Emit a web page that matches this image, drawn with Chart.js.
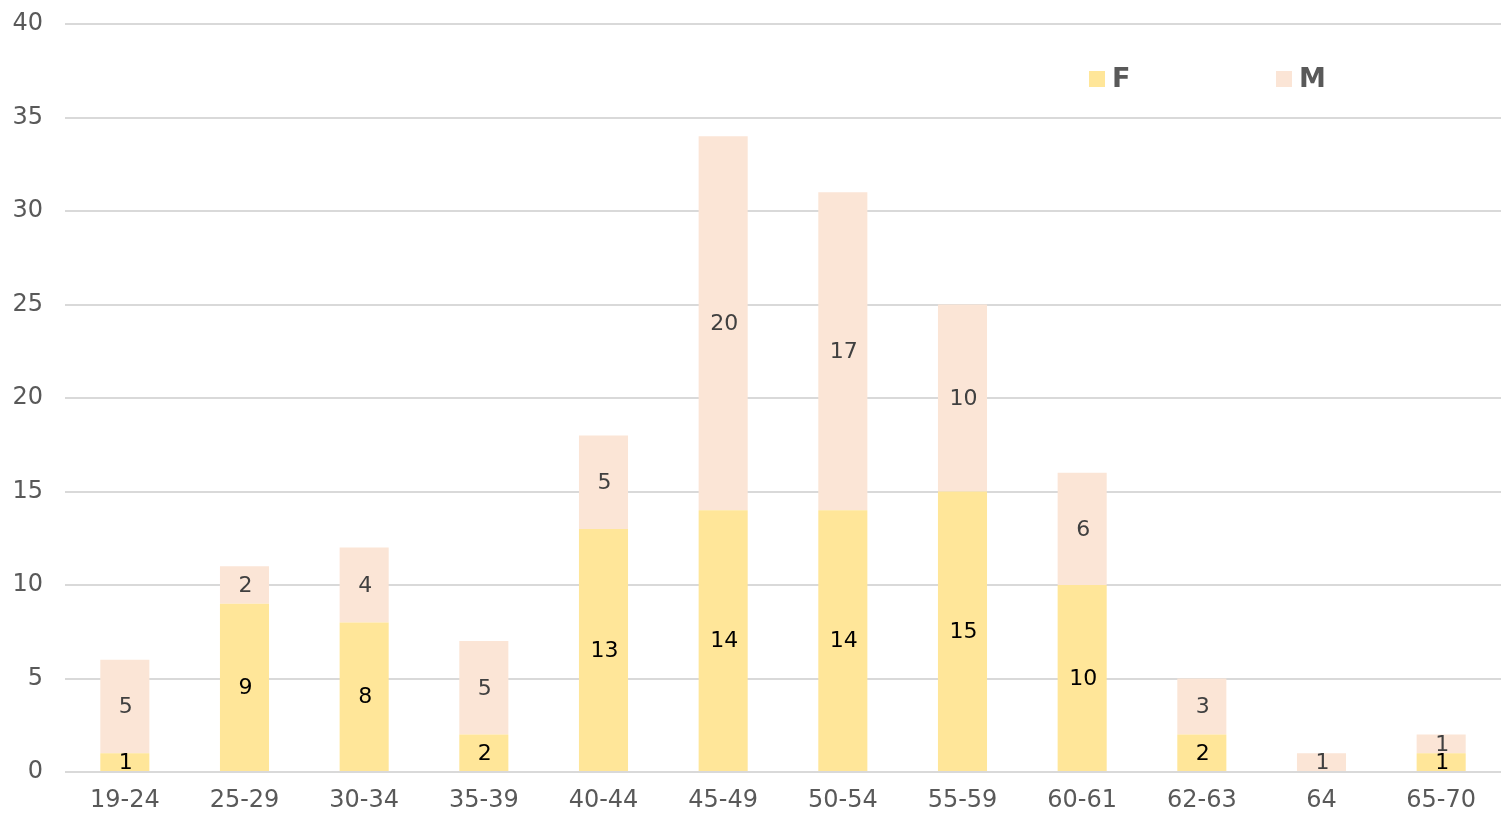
<!DOCTYPE html>
<html lang="en">
<head>
    <meta charset="UTF-8">
    <title>Age groups by gender</title>
    <script src="https://cdn.jsdelivr.net/npm/chart.js"></script>
    <style>
        html, body { margin: 0; padding: 0; background: #fff; }
        #wrap { width: 1501px; height: 817px; }
    </style>
</head>
<body>
    <div id="wrap"><canvas id="ageChart"></canvas></div>
    <script>
        // Chart data
        const ageGroups = ['19-24', '25-29', '30-34', '35-39', '40-44', '45-49', '50-54', '55-59', '60-61', '62-63', '64', '65-70'];
        const femaleCounts = [1, 9, 8, 2, 13, 14, 14, 15, 10, 2, 0, 1];
        const maleCounts = [5, 2, 4, 5, 5, 20, 17, 10, 6, 3, 1, 1];
        const yTicks = [0, 5, 10, 15, 20, 25, 30, 35, 40];

        const FONT = "'DejaVu Sans', Verdana, sans-serif";

        // values written in the middle of each segment
        const segmentLabels = {
            id: 'segmentLabels',
            afterDatasetsDraw(chart) {
                const ctx = chart.ctx;
                ctx.save();
                ctx.font = '22px ' + FONT;
                ctx.textAlign = 'center';
                ctx.textBaseline = 'middle';
                chart.data.datasets.forEach((ds, i) => {
                    chart.getDatasetMeta(i).data.forEach((bar, j) => {
                        const v = ds.data[j];
                        if (!v) return;
                        const mid = (bar.y + bar.base) / 2;
                        ctx.fillStyle = ds.labelColor;
                        ctx.fillText(v, bar.x + 1, mid + 1);
                    });
                });
                ctx.restore();
            }
        };

        // legend placed inside the plot, top right
        const innerLegend = {
            id: 'innerLegend',
            afterDraw(chart) {
                const ctx = chart.ctx;
                const spots = [1089, 1276];
                ctx.save();
                ctx.font = 'bold 27px ' + FONT;
                ctx.textBaseline = 'middle';
                ctx.textAlign = 'left';
                chart.data.datasets.forEach((ds, i) => {
                    const x = spots[i];
                    ctx.fillStyle = ds.backgroundColor;
                    ctx.fillRect(x, 71, 16, 16);
                    ctx.fillStyle = '#595959';
                    ctx.fillText(ds.label, x + 23, 80);
                });
                ctx.restore();
            }
        };

        new Chart(document.getElementById('ageChart'), {
            type: 'bar',
            data: {
                labels: ageGroups,
                datasets: [{
                    label: 'F',
                    data: femaleCounts,
                    backgroundColor: '#FFE699',
                    labelColor: '#000000',
                    barPercentage: 0.41,
                    categoryPercentage: 1
                }, {
                    label: 'M',
                    data: maleCounts,
                    backgroundColor: '#FBE5D6',
                    labelColor: '#404040',
                    barPercentage: 0.41,
                    categoryPercentage: 1
                }]
            },
            options: {
                responsive: true,
                maintainAspectRatio: false,
                animation: false,
                layout: { padding: { top: 24, right: 0, left: 0, bottom: 0 } },
                plugins: {
                    legend: { display: false },
                    tooltip: { enabled: false }
                },
                scales: {
                    x: {
                        stacked: true,
                        grid: { display: false },
                        border: { display: false },
                        ticks: {
                            color: '#595959',
                            font: { family: FONT, size: 24 },
                            padding: 6,
                            maxRotation: 0
                        },
                        afterFit(axis) {
                            axis.height = 45;
                            axis.paddingLeft = 0;
                            axis.paddingRight = 0;
                        }
                    },
                    y: {
                        stacked: true,
                        min: 0,
                        max: 40,
                        afterBuildTicks(axis) { axis.ticks = yTicks.map(v => ({ value: v })); },
                        grid: { color: '#D9D9D9', lineWidth: 2, drawTicks: false },
                        border: { display: false },
                        ticks: {
                            color: '#595959',
                            font: { family: FONT, size: 24 },
                            padding: 22
                        },
                        afterFit(axis) {
                            axis.width = 65;
                            axis.paddingTop = 0;
                            axis.paddingBottom = 0;
                        }
                    }
                }
            },
            plugins: [segmentLabels, innerLegend]
        });
    </script>
</body>
</html>
